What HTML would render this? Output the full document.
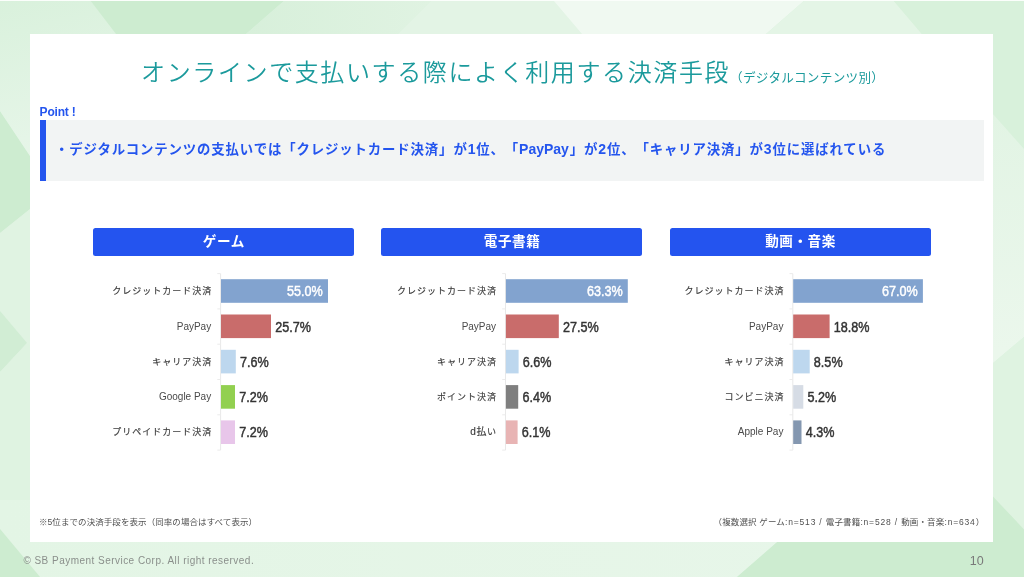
<!DOCTYPE html>
<html lang="ja">
<head>
<meta charset="utf-8">
<title>オンラインで支払いする際によく利用する決済手段</title>
<style>
html,body{margin:0;padding:0;}
body{text-spacing-trim:space-all;width:1024px;height:577px;overflow:hidden;position:relative;background:#daf1dd;font-family:"Liberation Sans","Noto Sans CJK JP",sans-serif;}
#bg,#bars{position:absolute;left:0;top:0;width:1024px;height:577px;display:block;}
#card{position:absolute;left:30.3px;top:34.3px;width:962.8px;height:507.4px;background:#fff;}
#fg{position:absolute;left:0;top:0;width:1024px;height:577px;will-change:transform;}
.abs{position:absolute;white-space:nowrap;}
#title{left:0;top:52px;width:1024px;height:40px;line-height:40px;color:#1b9a9c;font-weight:350;font-size:24px;letter-spacing:1.61px;}
#title .m{position:absolute;left:141.1px;top:0.8px;}
#title .s{position:absolute;left:730px;top:5.5px;font-size:12.6px;font-weight:400;letter-spacing:0.3px;}
#point{left:39.6px;top:103.5px;font-size:12px;letter-spacing:-0.2px;line-height:16px;font-weight:700;color:#2455ee;}
#pbox{left:40.2px;top:120.2px;width:943.8px;height:61.3px;background:#f2f4f4;}
#pbar{left:40.2px;top:120.2px;width:5.9px;height:61.3px;background:#2455ee;}
#ptxt .l{font-size:14px;letter-spacing:0;margin-right:0.83px;}
#ptxt{left:54.9px;top:138.0px;line-height:22px;font-size:13.4px;letter-spacing:0.875px;font-weight:700;color:#2455ee;}
.hd{position:absolute;top:227.8px;height:28.1px;line-height:28.7px;background:#2454ef;border-radius:2.5px;color:#fff;font-weight:700;font-size:13.6px;letter-spacing:0.55px;text-indent:0.55px;text-align:center;white-space:nowrap;}
.lab{position:absolute;height:23.6px;line-height:24.4px;text-align:right;font-size:10px;color:#4a4a4a;white-space:nowrap;}
.lab.cj{font-size:9px;letter-spacing:1px;margin-left:1px;color:#3a3a3a;-webkit-text-stroke-width:0.15px;}
.lab .la{font-size:10px;letter-spacing:0.6px;}
.val{position:absolute;height:23.6px;line-height:24px;font-size:14px;font-weight:400;-webkit-text-stroke-width:0.45px;color:#333;white-space:nowrap;}
.val span{display:inline-block;transform:scaleX(0.9);transform-origin:0 50%;}
.val.in{text-align:right;color:#fff;}
.val.in span{transform-origin:100% 50%;}
#fn1{left:39px;top:514px;line-height:16px;font-size:8.5px;letter-spacing:0.07px;color:#505050;}
#fn2{right:39.7px;top:514px;line-height:16px;font-size:8.5px;letter-spacing:0.15px;color:#505050;}
#fn2 .l{letter-spacing:0.83px;}
#copy{left:23.4px;top:551.5px;line-height:18px;font-size:10px;color:#8a8f8b;letter-spacing:0.47px;}
#pno{left:969.8px;top:551.5px;line-height:18px;font-size:12.5px;color:#7a7a7a;}
</style>
</head>
<body>
<svg id="bg" viewBox="0 0 1024 577" width="1024" height="577">
<defs>
<linearGradient id="gl" gradientUnits="userSpaceOnUse" x1="0" y1="0" x2="45" y2="170"><stop offset="0" stop-color="#d9f1dc"/><stop offset="1" stop-color="#e8f6ea"/></linearGradient>
<linearGradient id="gt3" x1="0" y1="0" x2="1" y2="0"><stop offset="0" stop-color="#d6efd9"/><stop offset="1" stop-color="#e0f3e2"/></linearGradient>
<linearGradient id="gb" x1="0" y1="0" x2="1" y2="0"><stop offset="0" stop-color="#e3f5e5"/><stop offset="1" stop-color="#e7f6e9"/></linearGradient>
<linearGradient id="gr" gradientUnits="userSpaceOnUse" x1="0" y1="114" x2="0" y2="350"><stop offset="0" stop-color="#e2f4e4"/><stop offset="1" stop-color="#ebf7ec"/></linearGradient>
</defs>
<rect width="1024" height="577" fill="#daf1dd"/>
<!-- left strip -->
<polygon points="0,111 60,201 60,185 0,233" fill="#cdecd0"/>
<polygon points="0,233 60,185 60,577 0,577" fill="#e0f3e2"/>
<polygon points="0,311 27,343 0,372" fill="#d1edd4"/>
<polygon points="0,372 27,343 60,380 60,577 0,577" fill="#dff3e1"/>
<!-- top strip -->
<polygon points="0,0 90,0 136,60 60,60 60,201 0,111" fill="url(#gl)"/>
<polygon points="90,0 285,0 216,60 136,60" fill="#cdecd0"/>
<polygon points="285,0 432,0 372,60 216,60" fill="url(#gt3)"/>
<polygon points="432,0 553,0 604,60 372,60" fill="#e3f4e5"/>
<polygon points="553,0 805,0 736,60 604,60" fill="#f0f9f1"/>
<polygon points="805,0 893,0 944,60 736,60" fill="#e4f5e6"/>
<polygon points="893,0 1024,0 1024,149 960,77 944,60" fill="#d8f1db"/>
<!-- right strip -->
<polygon points="960,77 1024,149 1024,337 960,391" fill="url(#gr)"/>
<polygon points="960,391 1024,337 1024,529.5 960,461.5" fill="#dff3e1"/>
<!-- bottom -->
<polygon points="40,577 0,529 0,500 60,500 825.3,500 737,577" fill="url(#gb)"/>
<polygon points="0,529 40,577 0,577" fill="#cdecd0"/>
<polygon points="1024,529.5 960,461.5 847,481 825.3,500 737,577 1024,577" fill="#cdecd0"/>
<rect x="0" y="0" width="1024" height="1" fill="#fbfefb"/>
</svg>
<div id="card"></div>
<div id="fg">
<div id="title" class="abs"><span class="m">オンラインで支払いする際によく利用する決済手段</span><span class="s">（デジタルコンテンツ別）</span></div>
<div id="point" class="abs">Point !</div>
<div id="pbox" class="abs"></div>
<div id="pbar" class="abs"></div>
<div id="ptxt" class="abs">・デジタルコンテンツの支払いでは「クレジットカード決済」が<span class="l">1</span>位、「<span class="l">PayPay</span>」が<span class="l">2</span>位、「キャリア決済」が<span class="l">3</span>位に選ばれている</div>
<svg id="bars" viewBox="0 0 1024 577" width="1024" height="577">
<rect x="220.1" y="273.6" width="1" height="176.5" fill="#e8e8e8"/>
<rect x="217.3" y="273.1" width="3.3" height="1" fill="#ebebeb"/>
<rect x="217.3" y="308.4" width="3.3" height="1" fill="#ebebeb"/>
<rect x="217.3" y="343.7" width="3.3" height="1" fill="#ebebeb"/>
<rect x="217.3" y="379.0" width="3.3" height="1" fill="#ebebeb"/>
<rect x="217.3" y="414.3" width="3.3" height="1" fill="#ebebeb"/>
<rect x="217.3" y="449.6" width="3.3" height="1" fill="#ebebeb"/>
<rect x="221.0" y="279.2" width="107.0" height="23.6" fill="#82a3cf"/>
<rect x="221.0" y="314.5" width="50.0" height="23.6" fill="#c96c6b"/>
<rect x="221.0" y="349.8" width="14.8" height="23.6" fill="#bdd7ee"/>
<rect x="221.0" y="385.1" width="14.0" height="23.6" fill="#92d050"/>
<rect x="221.0" y="420.4" width="14.0" height="23.6" fill="#e8c6ea"/>
<rect x="505.0" y="273.6" width="1" height="176.5" fill="#e8e8e8"/>
<rect x="502.2" y="273.1" width="3.3" height="1" fill="#ebebeb"/>
<rect x="502.2" y="308.4" width="3.3" height="1" fill="#ebebeb"/>
<rect x="502.2" y="343.7" width="3.3" height="1" fill="#ebebeb"/>
<rect x="502.2" y="379.0" width="3.3" height="1" fill="#ebebeb"/>
<rect x="502.2" y="414.3" width="3.3" height="1" fill="#ebebeb"/>
<rect x="502.2" y="449.6" width="3.3" height="1" fill="#ebebeb"/>
<rect x="505.9" y="279.2" width="121.9" height="23.6" fill="#82a3cf"/>
<rect x="505.9" y="314.5" width="52.9" height="23.6" fill="#c96c6b"/>
<rect x="505.9" y="349.8" width="12.7" height="23.6" fill="#bdd7ee"/>
<rect x="505.9" y="385.1" width="12.3" height="23.6" fill="#7f7f7f"/>
<rect x="505.9" y="420.4" width="11.7" height="23.6" fill="#e8b4b4"/>
<rect x="792.3" y="273.6" width="1" height="176.5" fill="#e8e8e8"/>
<rect x="789.5" y="273.1" width="3.3" height="1" fill="#ebebeb"/>
<rect x="789.5" y="308.4" width="3.3" height="1" fill="#ebebeb"/>
<rect x="789.5" y="343.7" width="3.3" height="1" fill="#ebebeb"/>
<rect x="789.5" y="379.0" width="3.3" height="1" fill="#ebebeb"/>
<rect x="789.5" y="414.3" width="3.3" height="1" fill="#ebebeb"/>
<rect x="789.5" y="449.6" width="3.3" height="1" fill="#ebebeb"/>
<rect x="793.2" y="279.2" width="129.7" height="23.6" fill="#82a3cf"/>
<rect x="793.2" y="314.5" width="36.4" height="23.6" fill="#c96c6b"/>
<rect x="793.2" y="349.8" width="16.5" height="23.6" fill="#bdd7ee"/>
<rect x="793.2" y="385.1" width="10.1" height="23.6" fill="#d6dce5"/>
<rect x="793.2" y="420.4" width="8.3" height="23.6" fill="#8497b0"/>
</svg>
<div class="hd" style="left:93.1px;width:260.9px">ゲーム</div>
<div class="lab cj" style="left:60.6px;width:150.6px;top:279.2px">クレジットカード決済</div>
<div class="val in" style="left:221.0px;width:101.7px;top:279px"><span style="transform:translateY(0.20px) scaleX(0.9)">55.0%</span></div>
<div class="lab" style="left:60.6px;width:150.6px;top:314.5px">PayPay</div>
<div class="val" style="left:275px;top:314px"><span style="transform:translate(0.19px,0.50px) scaleX(0.9)">25.7%</span></div>
<div class="lab cj" style="left:60.6px;width:150.6px;top:349.8px">キャリア決済</div>
<div class="val" style="left:239px;top:349px"><span style="transform:translate(0.98px,0.80px) scaleX(0.9)">7.6%</span></div>
<div class="lab" style="left:60.6px;width:150.6px;top:385.1px">Google Pay</div>
<div class="val" style="left:239px;top:385px"><span style="transform:translate(0.20px,0.10px) scaleX(0.9)">7.2%</span></div>
<div class="lab cj" style="left:60.6px;width:150.6px;top:420.4px">プリペイドカード決済</div>
<div class="val" style="left:239px;top:420px"><span style="transform:translate(0.20px,0.40px) scaleX(0.9)">7.2%</span></div>
<div class="hd" style="left:381.4px;width:260.9px">電子書籍</div>
<div class="lab cj" style="left:345.5px;width:150.6px;top:279.2px">クレジットカード決済</div>
<div class="val in" style="left:505.9px;width:116.6px;top:279px"><span style="transform:translateY(0.20px) scaleX(0.9)">63.3%</span></div>
<div class="lab" style="left:345.5px;width:150.6px;top:314.5px">PayPay</div>
<div class="val" style="left:563px;top:314px"><span style="transform:translate(0.04px,0.50px) scaleX(0.9)">27.5%</span></div>
<div class="lab cj" style="left:345.5px;width:150.6px;top:349.8px">キャリア決済</div>
<div class="val" style="left:522px;top:349px"><span style="transform:translate(0.81px,0.80px) scaleX(0.9)">6.6%</span></div>
<div class="lab cj" style="left:345.5px;width:150.6px;top:385.1px">ポイント決済</div>
<div class="val" style="left:522px;top:385px"><span style="transform:translate(0.42px,0.10px) scaleX(0.9)">6.4%</span></div>
<div class="lab cj" style="left:345.5px;width:150.6px;top:420.4px"><span class="la">d払</span>い</div>
<div class="val" style="left:521px;top:420px"><span style="transform:translate(0.84px,0.40px) scaleX(0.9)">6.1%</span></div>
<div class="hd" style="left:669.8px;width:260.9px">動画・音楽</div>
<div class="lab cj" style="left:632.8px;width:150.6px;top:279.2px">クレジットカード決済</div>
<div class="val in" style="left:793.2px;width:124.4px;top:279px"><span style="transform:translateY(0.20px) scaleX(0.9)">67.0%</span></div>
<div class="lab" style="left:632.8px;width:150.6px;top:314.5px">PayPay</div>
<div class="val" style="left:833px;top:314px"><span style="transform:translate(0.80px,0.50px) scaleX(0.9)">18.8%</span></div>
<div class="lab cj" style="left:632.8px;width:150.6px;top:349.8px">キャリア決済</div>
<div class="val" style="left:813px;top:349px"><span style="transform:translate(0.86px,0.80px) scaleX(0.9)">8.5%</span></div>
<div class="lab cj" style="left:632.8px;width:150.6px;top:385.1px">コンビニ決済</div>
<div class="val" style="left:807px;top:385px"><span style="transform:translate(0.47px,0.10px) scaleX(0.9)">5.2%</span></div>
<div class="lab" style="left:632.8px;width:150.6px;top:420.4px">Apple Pay</div>
<div class="val" style="left:805px;top:420px"><span style="transform:translate(0.72px,0.40px) scaleX(0.9)">4.3%</span></div>
<div id="fn1" class="abs">※5位までの決済手段を表示（同率の場合はすべて表示）</div>
<div id="fn2" class="abs">（複数選択 ゲーム<span class="l">:n=513 / </span>電子書籍<span class="l">:n=528 / </span>動画・音楽<span class="l">:n=634</span>）</div>
<div id="copy" class="abs">© SB Payment Service Corp. All right reserved.</div>
<div id="pno" class="abs">10</div>
</div>
</body>
</html>
